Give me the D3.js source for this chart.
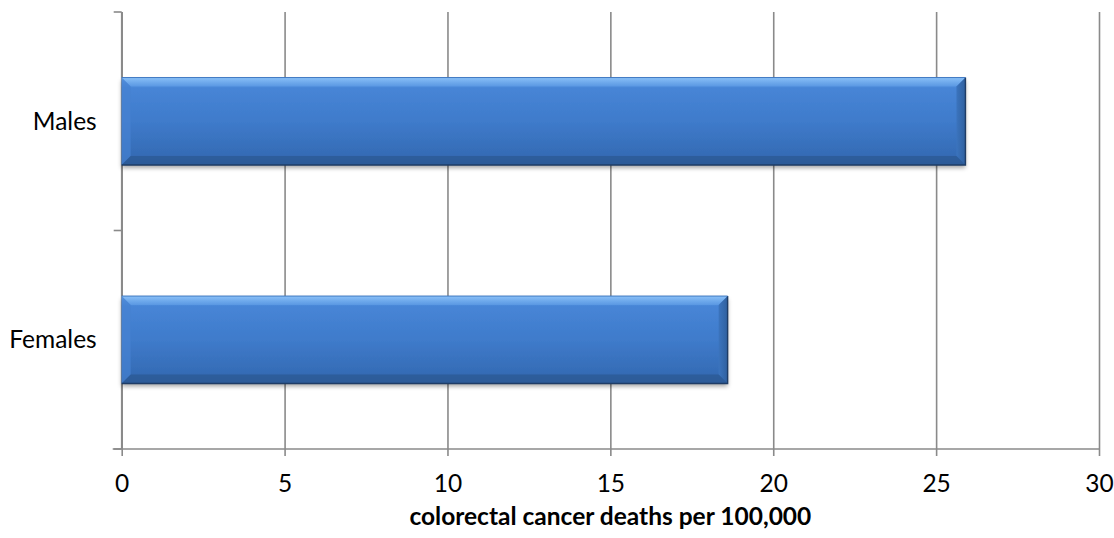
<!DOCTYPE html>
<html>
<head>
<meta charset="utf-8">
<script src="https://cdn.jsdelivr.net/npm/d3@7"></script>
<style>
  html, body { margin: 0; padding: 0; background: #fff; }
  svg { display: block; }
  text { font-family: Lato, "Open Sans", sans-serif; fill: #000; }
</style>
</head>
<body>
<svg id="chart" width="1114" height="538"></svg>
<script>
const categories = ["Males", "Females"];
const values = [25.9, 18.6];
const xTickValues = [0, 5, 10, 15, 20, 25, 30];
const xTitle = "colorectal cancer deaths per 100,000";

const W = 1114, H = 538;
const margin = { top: 12, right: 15, bottom: 89, left: 121.7 };
const iw = W - margin.left - margin.right;
const ih = H - margin.top - margin.bottom;

const svg = d3.select("#chart");
const defs = svg.append("defs");

const grad = defs.append("linearGradient").attr("id", "barGrad")
  .attr("x1", 0).attr("y1", 0).attr("x2", 0).attr("y2", 1);
[["0%", "#7DB6F4"], ["6%", "#5A97E2"], ["12%", "#4785D6"], ["50%", "#3F7BCB"], ["88%", "#356CB6"], ["100%", "#2E5F9F"]]
  .forEach(([o, c]) => grad.append("stop").attr("offset", o).attr("stop-color", c));

const topGrad = defs.append("linearGradient").attr("id", "topGrad")
  .attr("x1", 0).attr("y1", 0).attr("x2", 0).attr("y2", 1);
[["0%", "#8CC2F8"], ["100%", "#5C9AE4"]]
  .forEach(([o, c]) => topGrad.append("stop").attr("offset", o).attr("stop-color", c));

const rightGrad = defs.append("linearGradient").attr("id", "rightGrad")
  .attr("x1", 0).attr("y1", 0).attr("x2", 1).attr("y2", 0);
[["0%", "#3B74BE"], ["100%", "#2F609F"]]
  .forEach(([o, c]) => rightGrad.append("stop").attr("offset", o).attr("stop-color", c));

const shadow = defs.append("filter").attr("id", "shadow")
  .attr("x", "-5%").attr("y", "-20%").attr("width", "115%").attr("height", "150%");
shadow.append("feDropShadow").attr("dx", 0).attr("dy", 3).attr("stdDeviation", 2.2)
  .attr("flood-color", "#000").attr("flood-opacity", 0.35);

const g = svg.append("g").attr("transform", `translate(${margin.left},${margin.top})`);

const x = d3.scaleLinear().domain([0, 30]).range([0, iw]);
const y = d3.scaleBand().domain(categories).range([0, ih]).paddingInner(0.6).paddingOuter(0.3);

const gridColor = "#8A8A8A";

// vertical gridlines
g.append("g").attr("class", "grid")
  .call(d3.axisBottom(x).tickValues(xTickValues).tickSize(ih).tickFormat(""))
  .call(s => s.select(".domain").remove())
  .call(s => s.selectAll("line").attr("stroke", gridColor).attr("stroke-width", 1.6));

// x axis
const xAxis = g.append("g").attr("transform", `translate(0,${ih})`)
  .call(d3.axisBottom(x).tickValues(xTickValues).tickSize(7).tickPadding(19).tickFormat(d3.format("d")));
xAxis.select(".domain").remove();
xAxis.selectAll(".tick line").attr("stroke", gridColor).attr("stroke-width", 1.6);
xAxis.selectAll(".tick text").attr("font-size", 24.5).attr("font-family", "Lato, 'Open Sans', sans-serif").attr("fill", "#000");
xAxis.append("line").attr("x1", -9).attr("x2", iw).attr("y1", 0).attr("y2", 0)
  .attr("stroke", gridColor).attr("stroke-width", 1.6);

// y axis line + boundary ticks
const boundaries = [0].concat(categories.map(c => y(c) + y.bandwidth() + y.step() * y.paddingInner() / 2));
boundaries[boundaries.length - 1] = ih;
g.append("line").attr("x1", 0).attr("x2", 0).attr("y1", 0).attr("y2", ih)
  .attr("stroke", gridColor).attr("stroke-width", 1.6);
g.selectAll(".ytick").data(boundaries).enter().append("line")
  .attr("x1", -8).attr("x2", 0).attr("y1", d => d).attr("y2", d => d)
  .attr("stroke", gridColor).attr("stroke-width", 1.6);

// category labels
g.selectAll(".ylab").data(categories).enter().append("text")
  .attr("x", -25).attr("y", d => y(d) + y.bandwidth() / 2)
  .attr("dy", "0.35em").attr("text-anchor", "end").attr("font-size", 24.5)
  .text(d => d);

// bars
const bars = g.selectAll(".bar").data(categories.map((c, i) => ({ c, v: values[i] })))
  .enter().append("g").attr("class", "bar");

bars.append("rect")
  .attr("x", 0).attr("y", d => y(d.c)).attr("width", d => x(d.v)).attr("height", y.bandwidth())
  .attr("fill", "url(#barGrad)").attr("filter", "url(#shadow)");

const bev = 9;
// top bevel
bars.append("polygon").attr("points", d => {
  const x0 = 0, x1 = x(d.v), y0 = y(d.c);
  return `${x0},${y0} ${x1},${y0} ${x1 - bev},${y0 + bev} ${x0 + bev},${y0 + bev}`;
}).attr("fill", "url(#topGrad)").attr("opacity", 0.85);
// left bevel
bars.append("polygon").attr("points", d => {
  const x0 = 0, y0 = y(d.c), y1 = y(d.c) + y.bandwidth();
  return `${x0},${y0} ${x0 + bev},${y0 + bev} ${x0 + bev},${y1 - bev} ${x0},${y1}`;
}).attr("fill", "#4682D2").attr("opacity", 0.7);
// right bevel
bars.append("polygon").attr("points", d => {
  const x1 = x(d.v), y0 = y(d.c), y1 = y(d.c) + y.bandwidth();
  return `${x1},${y0} ${x1},${y1} ${x1 - bev},${y1 - bev} ${x1 - bev},${y0 + bev}`;
}).attr("fill", "url(#rightGrad)");
// bottom bevel
bars.append("polygon").attr("points", d => {
  const x0 = 0, x1 = x(d.v), y1 = y(d.c) + y.bandwidth();
  return `${x0},${y1} ${x0 + bev},${y1 - bev} ${x1 - bev},${y1 - bev} ${x1},${y1}`;
}).attr("fill", "#2C5A96").attr("opacity", 0.8);
// outline edges right & bottom
bars.append("path").attr("d", d => {
  const x1 = x(d.v), y0 = y(d.c), y1 = y(d.c) + y.bandwidth();
  return `M${x1},${y0} L${x1},${y1} L0,${y1}`;
}).attr("fill", "none").attr("stroke", "#1E3C66").attr("stroke-width", 1.4);
bars.append("path").attr("d", d => {
  const x1 = x(d.v), y0 = y(d.c);
  return `M0,${y0} L${x1},${y0}`;
}).attr("fill", "none").attr("stroke", "#3F78C2").attr("stroke-width", 1);

// x title
g.append("text").attr("x", iw / 2).attr("y", ih + 76).attr("text-anchor", "middle")
  .attr("font-size", 24.5).attr("font-weight", "bold").text(xTitle);
</script>
</body>
</html>
